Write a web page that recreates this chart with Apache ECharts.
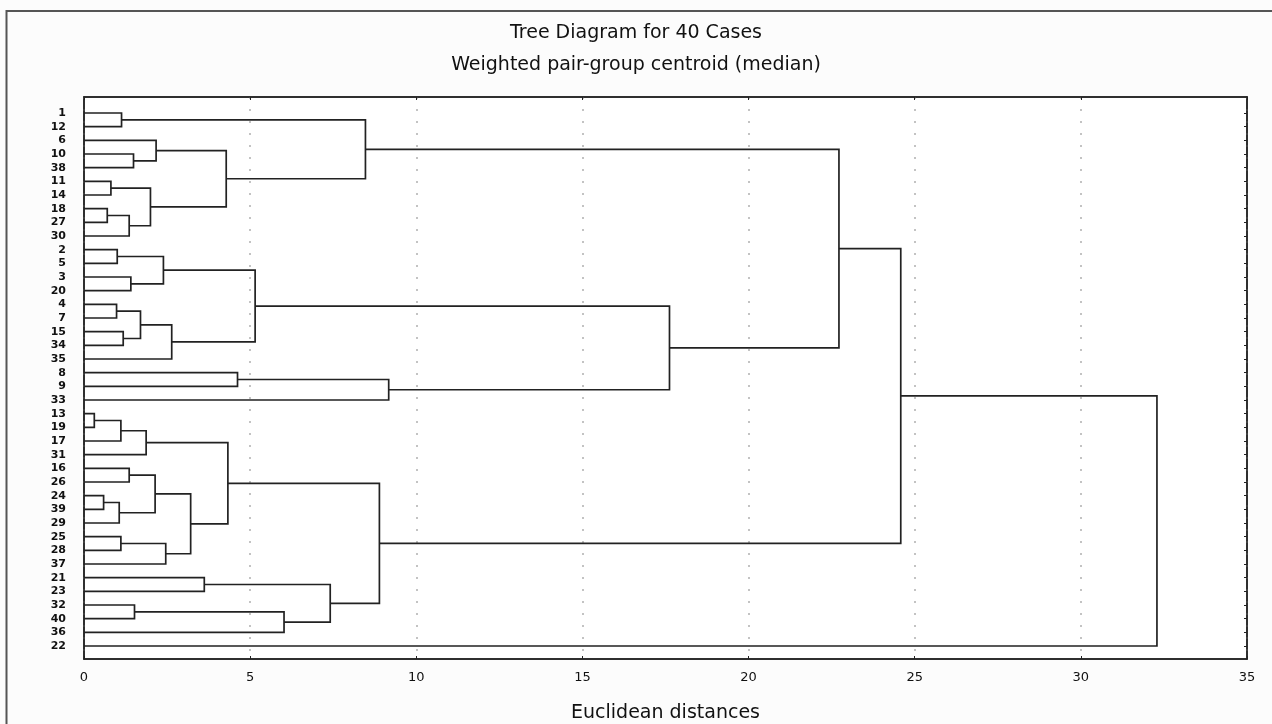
<!DOCTYPE html>
<html><head><meta charset="utf-8">
<script src="https://cdn.jsdelivr.net/npm/echarts@6/dist/echarts.min.js"></script>
<style>html,body{margin:0;padding:0;background:#fcfcfc}#c{width:1272px;height:724px}</style>
</head><body><div id="c"></div>
<script>
// Leaf order (top to bottom)
const caseLabels = ['1','12','6','10','38','11','14','18','27','30','2','5','3','20','4','7','15','34','35','8','9','33','13','19','17','31','16','26','24','39','29','25','28','37','21','23','32','40','36','22'];
// Merges: children are case labels or '#k' (k-th merge); heights in Euclidean distance
const mergeLeft   = ['1','10','6','18','#3','11','#5','#2','#0','2','3','#9','4','15','#12','#14','#11','8','#17','#16','#8','13','#21','#22','16','24','#25','#24','25','#28','#27','#23','21','32','#33','#32','#31','#20','#37'];
const mergeRight  = ['12','38','#1','27','30','14','#4','#6','#7','5','20','#10','7','34','#13','35','#15','9','33','#18','#19','19','17','31','26','39','29','#26','28','37','#29','#30','23','40','36','#34','#35','#36','22'];
const mergeHeight = [1.13,1.49,2.17,0.70,1.36,0.81,2.00,4.28,8.47,1.00,1.41,2.39,0.98,1.18,1.70,2.64,5.15,4.62,9.17,17.62,22.72,0.31,1.11,1.87,1.36,0.59,1.06,2.14,1.11,2.46,3.21,4.33,3.62,1.52,6.02,7.41,8.89,24.58,32.29];

const nodes = {};
caseLabels.forEach((c, i) => { nodes[c] = { y: i, h: 0 }; });
const links = [];
mergeHeight.forEach((h, k) => {
  const a = nodes[mergeLeft[k]], b = nodes[mergeRight[k]];
  nodes['#' + k] = { y: (a.y + b.y) / 2, h: h };
  links.push([h, a.y, b.y, a.h, b.h]);
});
const rowIdx = caseLabels.map((c, i) => i);

const chart = echarts.init(document.getElementById('c'));
const FONT = 'DejaVu Sans';
const axisLineStyle = { show: true, onZero: false, lineStyle: { color: '#222', width: 1.5 } };
chart.setOption({
  backgroundColor: '#fcfcfc',
  animation: false,
  title: [
    { text: 'Tree Diagram for 40 Cases', left: 'center', top: 19,
      textStyle: { fontFamily: FONT, fontSize: 19, fontWeight: 'normal', color: '#111' } },
    { text: 'Weighted pair-group centroid (median)', left: 'center', top: 51,
      textStyle: { fontFamily: FONT, fontSize: 19, fontWeight: 'normal', color: '#111' } }
  ],
  graphic: [{
    type: 'rect', silent: true, z: -1,
    shape: { x: 6.5, y: 11, width: 1300, height: 800 },
    style: { fill: null, stroke: '#555', lineWidth: 2 }
  }],
  grid: { left: 84, right: 25, top: 97, bottom: 65, outerBoundsMode: 'none', containLabel: false,
    show: true, backgroundColor: '#fff', borderColor: '#222', borderWidth: 1.5 },
  xAxis: [{
    type: 'value', min: 0, max: 35, interval: 5, position: 'bottom',
    name: 'Euclidean distances', nameLocation: 'middle', nameGap: 45,
    nameTextStyle: { fontFamily: FONT, fontSize: 19, color: '#111' },
    axisLine: axisLineStyle,
    axisTick: { show: true, inside: true, length: 3, lineStyle: { color: '#222' } },
    axisLabel: { fontFamily: FONT, fontSize: 13, color: '#111', margin: 12 },
    splitLine: { show: true, lineStyle: { color: '#b0b0b0', width: 1.5, type: [2, 10] } }
  }, {
    type: 'value', min: 0, max: 35, interval: 5, position: 'top',
    axisLine: axisLineStyle,
    axisTick: { show: true, inside: true, length: 3, lineStyle: { color: '#222' } },
    axisLabel: { show: false }, splitLine: { show: false }
  }],
  yAxis: [{
    type: 'value', inverse: true, min: -1.17, max: 39.95, position: 'left',
    axisLine: axisLineStyle,
    axisTick: { show: false },
    splitLine: { show: false },
    axisLabel: {
      customValues: rowIdx, margin: 18, fontFamily: FONT, fontSize: 11, fontWeight: 'bold', color: '#111',
      formatter: v => caseLabels[Math.round(v)]
    }
  }, {
    type: 'value', inverse: true, min: -1.17, max: 39.95, position: 'right',
    axisLine: axisLineStyle,
    axisTick: { show: true, inside: true, length: 3, customValues: rowIdx, lineStyle: { color: '#222' } },
    axisLabel: { show: false }, splitLine: { show: false }
  }],
  series: [{
    type: 'custom',
    xAxisIndex: 0, yAxisIndex: 0,
    encode: { x: [0, 3, 4], y: [1, 2] },
    data: links,
    renderItem: function (params, api) {
      const h = api.value(0), ya = api.value(1), yb = api.value(2), ha = api.value(3), hb = api.value(4);
      return {
        type: 'polyline',
        shape: { points: [api.coord([ha, ya]), api.coord([h, ya]), api.coord([h, yb]), api.coord([hb, yb])] },
        style: { stroke: '#222', lineWidth: 1.7, fill: null }
      };
    }
  }]
});
</script>
</body></html>
